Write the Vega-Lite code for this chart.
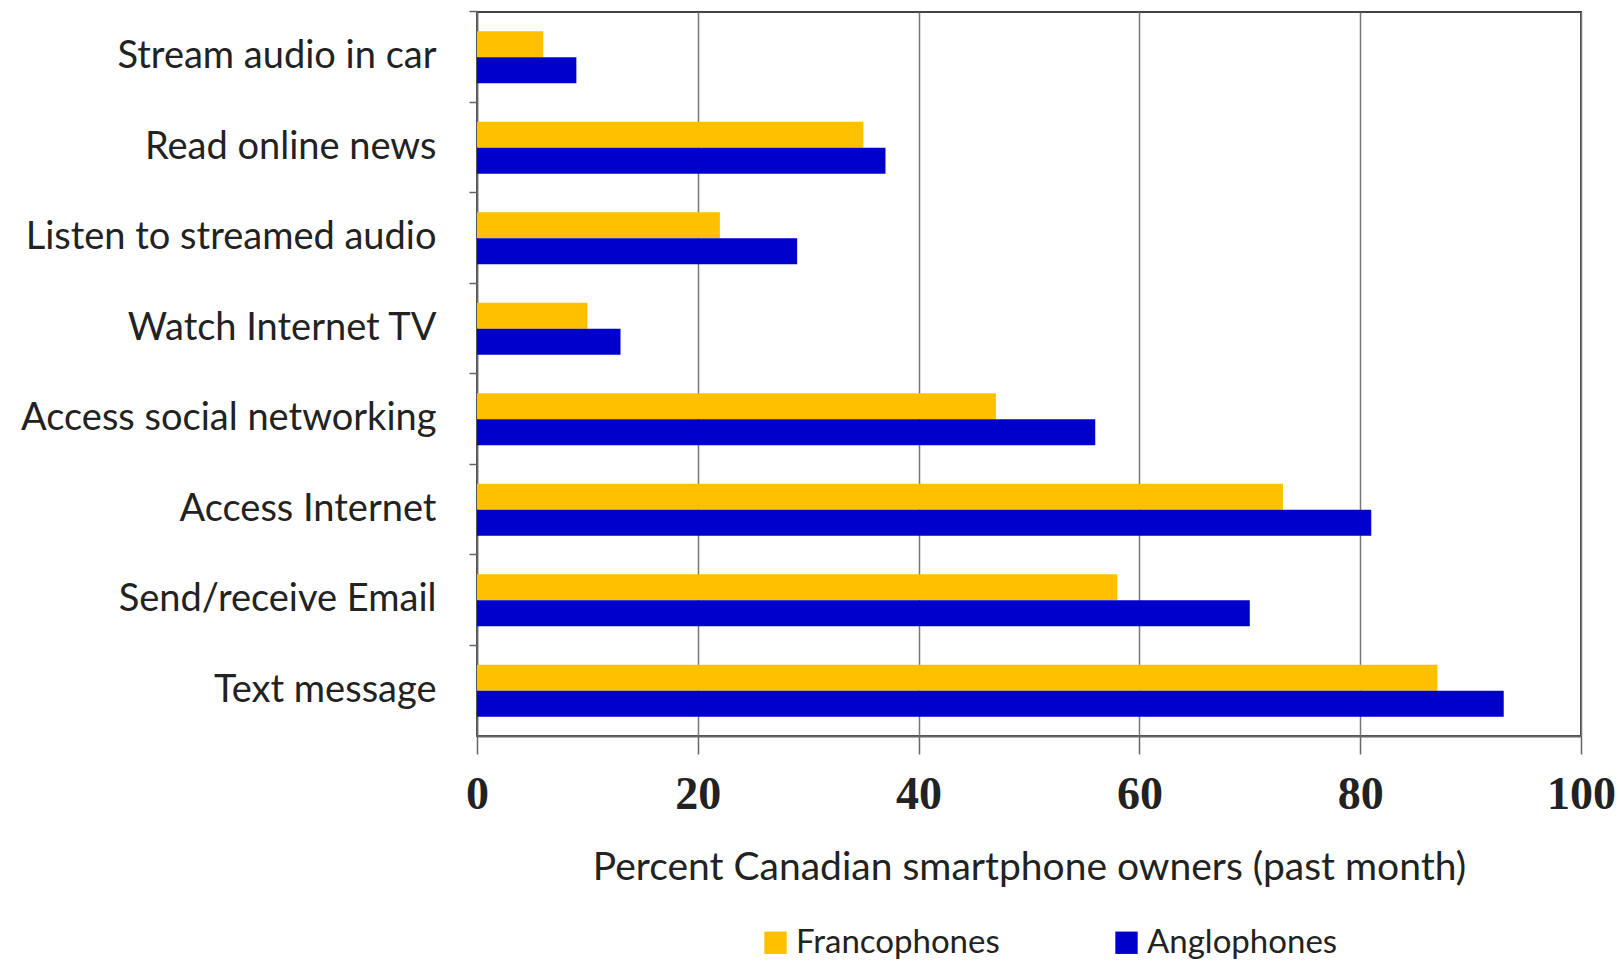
{
  "$schema": "https://vega.github.io/schema/vega-lite/v6.json",
  "width": 1104,
  "height": 724,
  "autosize": "none",
  "padding": {"left": 477, "top": 12, "right": 39, "bottom": 230},
  "background": "white",
  "config": {
    "view": {"stroke": "#444", "strokeWidth": 2},
    "font": "Lato"
  },
  "data": {
    "values": [
      {"activity": "Stream audio in car", "group": "Francophones", "percent": 6},
      {"activity": "Stream audio in car", "group": "Anglophones", "percent": 9},
      {"activity": "Read online news", "group": "Francophones", "percent": 35},
      {"activity": "Read online news", "group": "Anglophones", "percent": 37},
      {"activity": "Listen to streamed audio", "group": "Francophones", "percent": 22},
      {"activity": "Listen to streamed audio", "group": "Anglophones", "percent": 29},
      {"activity": "Watch Internet TV", "group": "Francophones", "percent": 10},
      {"activity": "Watch Internet TV", "group": "Anglophones", "percent": 13},
      {"activity": "Access social networking", "group": "Francophones", "percent": 47},
      {"activity": "Access social networking", "group": "Anglophones", "percent": 56},
      {"activity": "Access Internet", "group": "Francophones", "percent": 73},
      {"activity": "Access Internet", "group": "Anglophones", "percent": 81},
      {"activity": "Send/receive Email", "group": "Francophones", "percent": 58},
      {"activity": "Send/receive Email", "group": "Anglophones", "percent": 70},
      {"activity": "Text message", "group": "Francophones", "percent": 87},
      {"activity": "Text message", "group": "Anglophones", "percent": 93}
    ]
  },
  "mark": {"type": "bar"},
  "encoding": {
    "y": {
      "field": "activity",
      "type": "nominal",
      "sort": null,
      "scale": {"paddingInner": 0.425, "paddingOuter": 0.2125},
      "axis": {
        "title": null,
        "labelFont": "Lato",
        "labelFontSize": 38,
        "labelColor": "#222",
        "labelPadding": 33,
        "labelLimit": 0,
        "tickSize": 8,
        "tickColor": "#666",
        "tickWidth": 1.5,
        "bandPosition": -0.37,
        "domainColor": "#666",
        "domainWidth": 1.5,
        "grid": false
      }
    },
    "yOffset": {
      "field": "group",
      "type": "nominal",
      "sort": ["Francophones", "Anglophones"]
    },
    "x": {
      "field": "percent",
      "type": "quantitative",
      "scale": {"domain": [0, 100], "nice": false},
      "axis": {
        "title": "Percent Canadian smartphone owners (past month)",
        "titleFont": "Lato",
        "titleFontSize": 39,
        "titleFontWeight": "normal",
        "titleColor": "#222",
        "titlePadding": 31,
        "values": [0, 20, 40, 60, 80, 100],
        "labelFont": "Liberation Serif",
        "labelFontSize": 46,
        "labelFontWeight": "bold",
        "labelColor": "#222",
        "labelPadding": 18,
        "labelFlush": false,
        "tickSize": 18,
        "tickColor": "#666",
        "tickWidth": 1.5,
        "domainColor": "#666",
        "domainWidth": 2,
        "grid": true,
        "gridColor": "#777",
        "gridWidth": 1.5
      }
    },
    "color": {
      "field": "group",
      "type": "nominal",
      "sort": ["Francophones", "Anglophones"],
      "scale": {"domain": ["Francophones", "Anglophones"], "range": ["#FFC000", "#0000CC"]},
      "legend": {
        "title": null,
        "orient": "none",
        "direction": "horizontal",
        "columns": 2,
        "legendX": 282,
        "legendY": 914,
        "columnPadding": 110,
        "symbolType": "square",
        "symbolSize": 500,
        "symbolStrokeWidth": 0,
        "labelFont": "Lato",
        "labelFontSize": 33,
        "labelColor": "#222",
        "labelOffset": 4,
        "labelLimit": 0,
        "padding": 0
      }
    }
  }
}
